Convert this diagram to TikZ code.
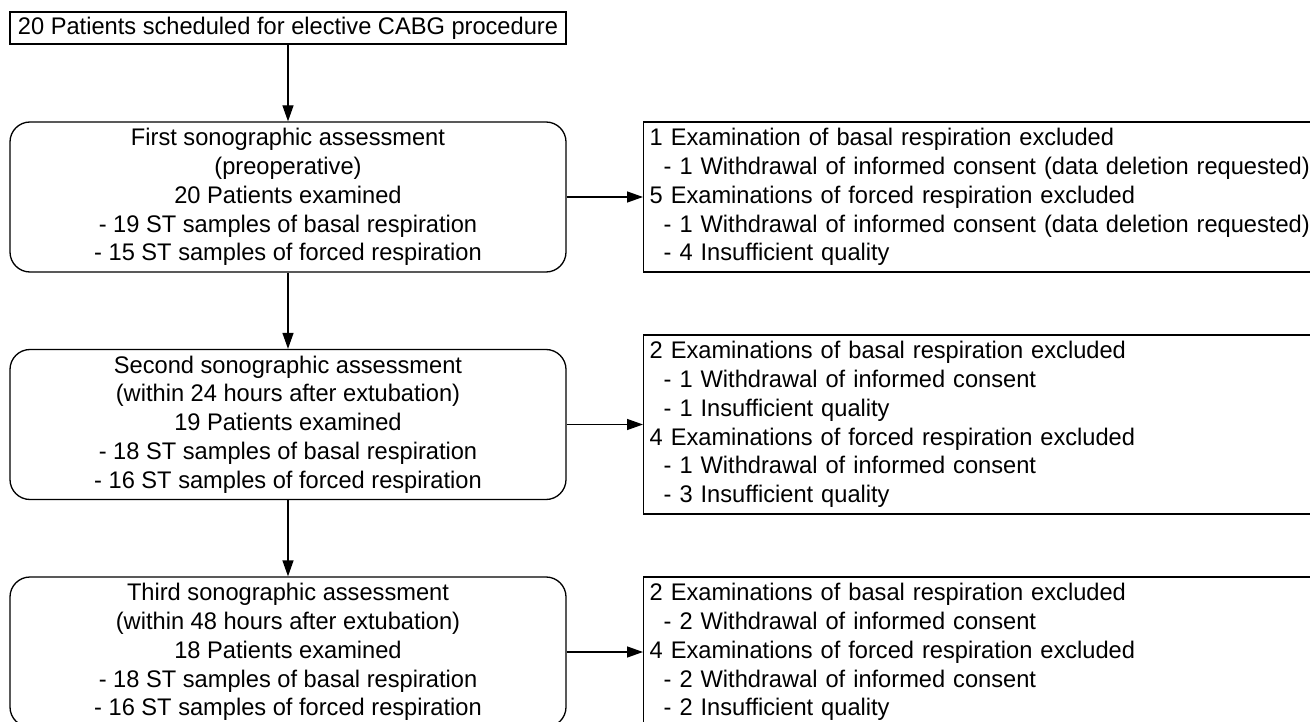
\documentclass[tikz,border=0pt]{standalone}
\usepackage{fontspec}
\setmainfont{Liberation Sans}[FakeStretch=0.985]
\usepackage{tikz}
\usetikzlibrary{arrows.meta}

\newcommand{\dashind}{\hspace*{14pt}- }

\begin{document}
\begin{tikzpicture}[x=1pt, y=-1pt, line width=1.3pt,
    every node/.style={font=\fontsize{24pt}{28.8pt}\selectfont},
    startbox/.style={draw, minimum width=556pt, minimum height=32pt, inner sep=0pt},
    stage/.style={draw, rounded corners=20pt, minimum width=556pt, minimum height=150pt, align=center, inner sep=0pt},
    excl/.style={draw, anchor=west, text width=700pt, inner xsep=6pt, inner ysep=3pt, align=left},
    flow/.style={-{Triangle[length=16pt, width=11pt]}}]
  \clip (0,0) rectangle (1310,722);
  \node[startbox] (start) at (288,28) {20 Patients scheduled for elective CABG procedure};
  \node[stage] (first) at (288,197) {First sonographic assessment\\(preoperative)\\20 Patients examined\\- 19 ST samples of basal respiration\\- 15 ST samples of forced respiration};
  \node[stage] (second) at (288,424.5) {Second sonographic assessment\\(within 24 hours after extubation)\\19 Patients examined\\- 18 ST samples of basal respiration\\- 16 ST samples of forced respiration};
  \node[stage] (third) at (288,652) {Third sonographic assessment\\(within 48 hours after extubation)\\18 Patients examined\\- 18 ST samples of basal respiration\\- 16 ST samples of forced respiration};
  \node[excl, minimum height=150pt] (excla) at (643,197) {1 Examination of basal respiration excluded\\\dashind 1 Withdrawal of informed consent (data deletion requested)\\5 Examinations of forced respiration excluded\\\dashind 1 Withdrawal of informed consent (data deletion requested)\\\dashind 4 Insufficient quality};
  \node[excl, minimum height=179pt] (exclb) at (643,424.5) {2 Examinations of basal respiration excluded\\\dashind 1 Withdrawal of informed consent\\\dashind 1 Insufficient quality\\4 Examinations of forced respiration excluded\\\dashind 1 Withdrawal of informed consent\\\dashind 3 Insufficient quality};
  \node[excl, minimum height=150pt] (exclc) at (643,652) {2 Examinations of basal respiration excluded\\\dashind 2 Withdrawal of informed consent\\4 Examinations of forced respiration excluded\\\dashind 2 Withdrawal of informed consent\\\dashind 2 Insufficient quality};
  \draw[flow] (start) -- (first);
  \draw[flow] (first) -- (second);
  \draw[flow] (second) -- (third);
  \draw[flow] (first) -- (excla);
  \draw[flow] (second) -- (exclb);
  \draw[flow] (third) -- (exclc);
\end{tikzpicture}
\end{document}
